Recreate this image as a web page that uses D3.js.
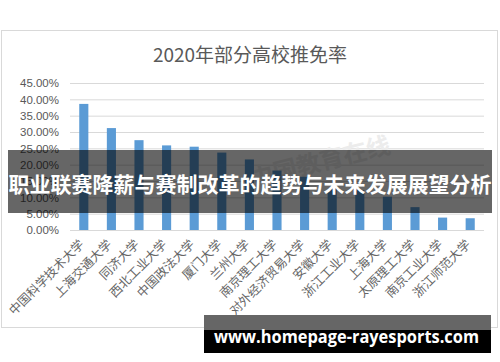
<!DOCTYPE html>
<html>
<head>
<meta charset="utf-8">
<script src="https://cdn.jsdelivr.net/npm/d3@7"></script>
<style>
  body { margin: 0; background: #fff; }
  svg { display: block; }
</style>
</head>
<body>
<svg width="500" height="362"></svg>
<script>
// chart data
const schools = ['中国科学技术大学', '上海交通大学', '同济大学', '西北工业大学', '中国政法大学',
  '厦门大学', '兰州大学', '南京理工大学', '对外经济贸易大学', '安徽大学',
  '浙江工业大学', '上海大学', '太原理工大学', '南京工业大学', '浙江师范大学']
const rates = [0.386, 0.312, 0.275, 0.259, 0.255, 0.237, 0.216, 0.182, 0.163, 0.125,
  0.122, 0.102, 0.070, 0.038, 0.036]
const yTicks = [0, 0.05, 0.10, 0.15, 0.20, 0.25, 0.30, 0.35, 0.40, 0.45]
const chartTitle = '2020年部分高校推免率'
const bannerText = '职业联赛降薪与赛制改革的趋势与未来发展展望分析'
const siteText = 'www.homepage-rayesports.com'

const svg = d3.select('svg')

/* CHART FRAME */
svg.append('rect')
  .attr('x', 1.5).attr('y', 30.5)
  .attr('width', 496).attr('height', 297)
  .attr('fill', '#fff')
  .attr('stroke', '#d9d9d9')

/* TITLE */
svg.append('text')
  .attr('x', 250).attr('y', 62)
  .attr('text-anchor', 'middle')
  .attr('font-family', '"Noto Sans CJK SC", "Noto Sans", sans-serif')
  .attr('font-size', 19)
  .attr('fill', '#595959')
  .text(chartTitle)

/* SCALES */
const xScale = d3.scaleBand()
  .domain(schools)
  .range([70, 484])
  .paddingInner(0.67)
  .paddingOuter(0.335)

const yScale = d3.scaleLinear()
  .domain([0, 0.45])
  .range([230, 83])

/* Y AXIS WITH GRIDLINES */
const yAxis = d3.axisLeft(yScale)
  .tickValues(yTicks)
  .tickFormat(d3.format('.2%'))
  .tickSize(-(484 - 70))
  .tickPadding(11)

const gy = svg.append('g')
  .attr('transform', 'translate(70, 0)')
  .call(yAxis)
gy.select('.domain').remove()
gy.selectAll('line').attr('stroke', '#d9d9d9')
gy.selectAll('text')
  .attr('font-family', '"Liberation Sans", Arial, sans-serif')
  .attr('font-size', 11.5)
  .attr('fill', '#595959')

/* WATERMARK */
svg.append('text')
  .attr('transform', 'translate(322, 170) rotate(-14)')
  .attr('text-anchor', 'middle')
  .attr('font-family', '"Noto Sans CJK SC", sans-serif')
  .attr('font-weight', 700)
  .attr('font-size', 24)
  .attr('fill', '#ececec')
  .text('中国教育在线')

/* BARS */
svg.append('g').selectAll('rect')
  .data(rates)
  .enter().append('rect')
  .attr('x', (d, i) => xScale(schools[i]))
  .attr('y', d => yScale(d))
  .attr('width', xScale.bandwidth())
  .attr('height', d => yScale(0) - yScale(d))
  .attr('fill', '#5b9bd5')

/* X AXIS LINE */
svg.append('line')
  .attr('x1', 70).attr('x2', 484)
  .attr('y1', yScale(0) + 0.5).attr('y2', yScale(0) + 0.5)
  .attr('stroke', '#d9d9d9')

/* X LABELS (rotated) */
svg.append('g').selectAll('text')
  .data(schools)
  .enter().append('text')
  .attr('transform', d => `translate(${xScale(d) + xScale.bandwidth() / 2 - 2}, 242) rotate(-45)`)
  .attr('text-anchor', 'end')
  .attr('dy', '0.35em')
  .attr('font-family', '"Noto Sans CJK SC", sans-serif')
  .attr('font-size', 12.5)
  .attr('fill', '#666')
  .text(d => d)

/* OVERLAY BANNER */
svg.append('rect')
  .attr('x', 8).attr('y', 150)
  .attr('width', 484).attr('height', 63)
  .attr('fill', '#000')
  .attr('fill-opacity', 0.6)

svg.append('text')
  .attr('x', 250).attr('y', 186)
  .attr('text-anchor', 'middle')
  .attr('dominant-baseline', 'middle')
  .attr('font-family', '"Noto Sans CJK SC", sans-serif')
  .attr('font-weight', 700)
  .attr('font-size', 21)
  .attr('fill', '#fff')
  .text(bannerText)

/* SITE LABEL */
svg.append('rect')
  .attr('x', 204).attr('y', 315)
  .attr('width', 287).attr('height', 15)
  .attr('fill', '#666')
svg.append('rect')
  .attr('x', 204).attr('y', 330)
  .attr('width', 287).attr('height', 23)
  .attr('fill', '#000')

svg.append('text')
  .attr('x', 214).attr('y', 343)
  .attr('textLength', 265)
  .attr('lengthAdjust', 'spacingAndGlyphs')
  .attr('font-family', '"Open Sans", "Noto Sans", sans-serif')
  .attr('font-weight', 700)
  .attr('font-size', 18)
  .attr('fill', '#fff')
  .text(siteText)
</script>
</body>
</html>
